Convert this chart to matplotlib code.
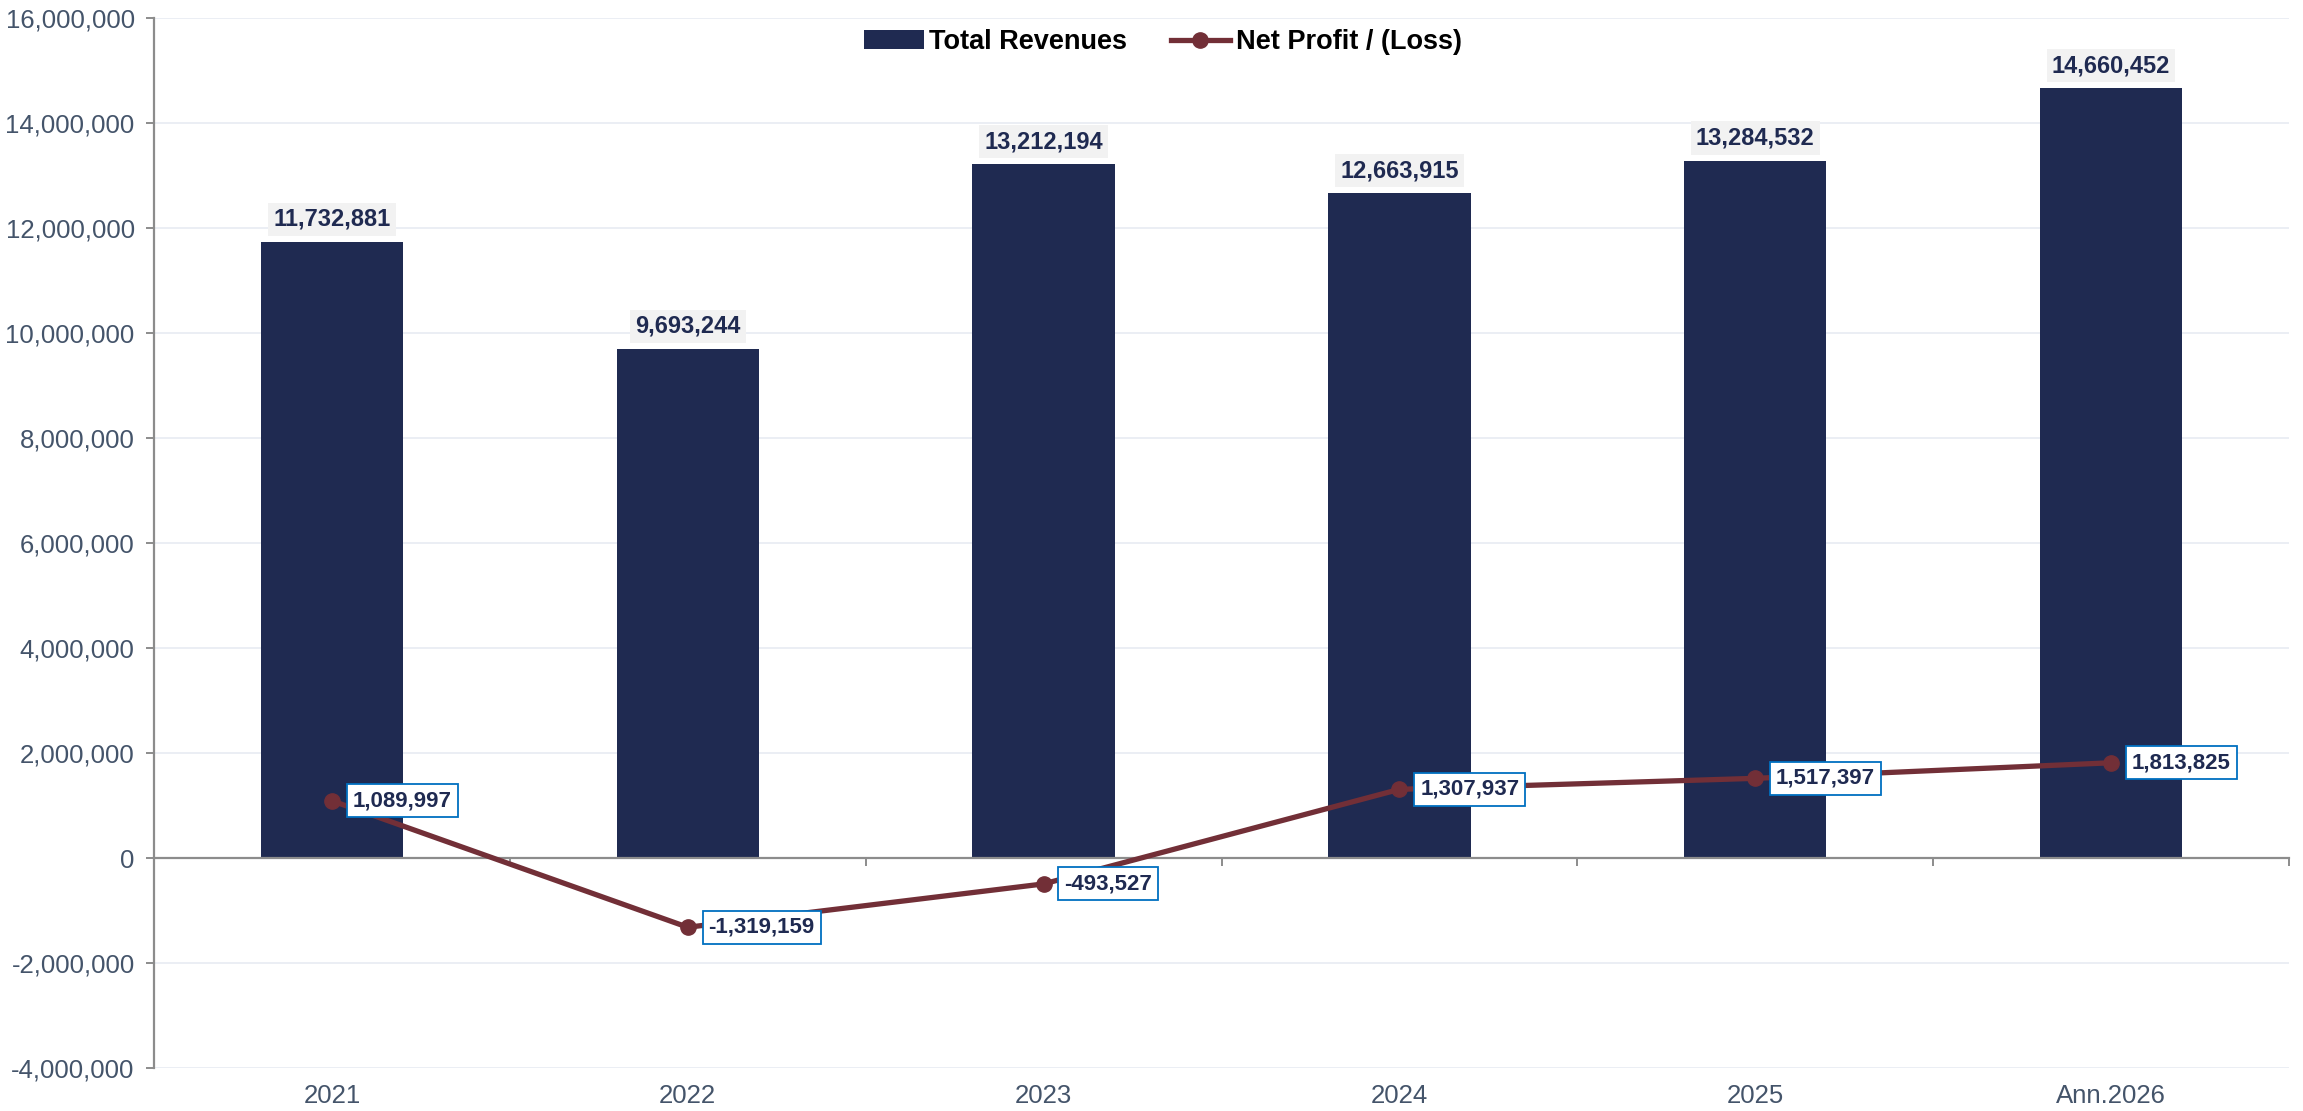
import numpy as np
import matplotlib
matplotlib.use('Agg')
import matplotlib.pyplot as plt
from matplotlib.ticker import FuncFormatter, MultipleLocator

categories = ['2021', '2022', '2023', '2024', '2025', 'Ann.2026']
revenues = [11732881, 9693244, 13212194, 12663915, 13284532, 14660452]
net_profit = [1089997, -1319159, -493527, 1307937, 1517397, 1813825]

navy = '#1f2a51'
maroon = '#722f37'
slate = '#44546a'
plt.rcParams['font.family'] = ['Liberation Sans', 'DejaVu Sans']

fig = plt.figure(figsize=(23.03, 11.11), dpi=100)
ax = fig.add_axes([0.0669, 0.0387, 0.9270, 0.9451])

x = np.arange(len(categories))
bars = ax.bar(x, revenues, width=0.4, color=navy, zorder=2, label='Total Revenues')
line, = ax.plot(x, net_profit, color=maroon, lw=3.8, marker='o', ms=11,
                zorder=4, label='Net Profit / (Loss)')

ax.set_xlim(-0.5, len(categories) - 0.5)
ax.set_ylim(-4000000, 16000000)
ax.yaxis.set_major_locator(MultipleLocator(2000000))
ax.yaxis.set_major_formatter(FuncFormatter(lambda v, p: f'{int(v):,}'))
ax.grid(axis='y', color='#e8ebf2', lw=1.2, zorder=0)
ax.set_axisbelow(True)

for s in ['top', 'right']:
    ax.spines[s].set_visible(False)
ax.spines['left'].set_color('#8c8c8c')
ax.spines['left'].set_linewidth(1.6)
ax.spines['bottom'].set_position(('data', 0))
ax.spines['bottom'].set_color('#8c8c8c')
ax.spines['bottom'].set_linewidth(1.6)
ax.spines['bottom'].set_zorder(3)

ax.set_xticks(np.arange(len(categories) + 1) - 0.5)
ax.tick_params(axis='x', direction='out', length=6, width=1.4, color='#8c8c8c',
               labelbottom=False)
ax.tick_params(axis='y', direction='out', length=6, width=1.4, color='#8c8c8c',
               labelsize=18.5, labelcolor=slate, pad=8)

for i, c in enumerate(categories):
    ax.text(i, -0.027, c, transform=ax.get_xaxis_transform(), ha='center', va='center',
            fontsize=18.5, color=slate)

for i, v in enumerate(revenues):
    ax.annotate(f'{v:,}', (i, v), xytext=(0, 8), textcoords='offset points',
                ha='center', va='bottom', fontsize=17, fontweight='bold', color=navy,
                bbox=dict(boxstyle='square,pad=0.22', fc='#f2f2f2', ec='none'), zorder=5)

for i, v in enumerate(net_profit):
    ax.annotate(f'{v:,}', (i, v), xytext=(15, 0), textcoords='offset points',
                ha='left', va='center', fontsize=16, fontweight='bold', color=navy,
                family=['Liberation Sans Narrow', 'Liberation Sans'],
                bbox=dict(boxstyle='square,pad=0.27', fc='white', ec='#0070c0', lw=1.3),
                zorder=6)

fig.legend(handles=[bars, line], loc='center', bbox_to_anchor=(0.505, 0.962), ncol=2,
           frameon=False, prop={'weight': 'bold', 'size': 19.5}, handlelength=2.2,
           handletextpad=0.2, columnspacing=1.6)

fig.savefig('out.png', dpi=100)
